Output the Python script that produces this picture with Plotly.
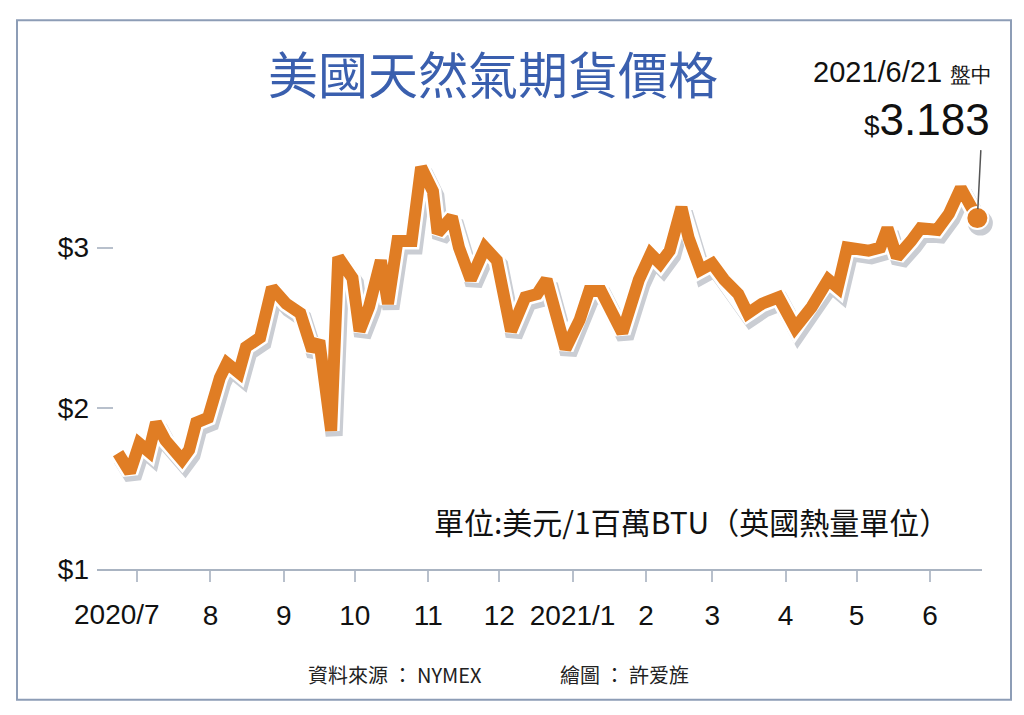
import plotly.graph_objects as go

# 美國天然氣期貨價格
dates = ["2020-06-23", "2020-06-28", "2020-07-02", "2020-07-06", "2020-07-09", "2020-07-13",
         "2020-07-20", "2020-07-23", "2020-07-26", "2020-07-31", "2020-08-05", "2020-08-08",
         "2020-08-13", "2020-08-16", "2020-08-22", "2020-08-27", "2020-09-02", "2020-09-08",
         "2020-09-13", "2020-09-16", "2020-09-21", "2020-09-24", "2020-09-30", "2020-10-03",
         "2020-10-07", "2020-10-12", "2020-10-15", "2020-10-19", "2020-10-25", "2020-10-29",
         "2020-11-03", "2020-11-05", "2020-11-11", "2020-11-14", "2020-11-19", "2020-11-25",
         "2020-11-30", "2020-12-06", "2020-12-12", "2020-12-17", "2020-12-21", "2020-12-29",
         "2021-01-04", "2021-01-08", "2021-01-13", "2021-01-22", "2021-01-29", "2021-02-03",
         "2021-02-07", "2021-02-11", "2021-02-16", "2021-02-19", "2021-02-24", "2021-03-01",
         "2021-03-06", "2021-03-12", "2021-03-16", "2021-03-22", "2021-03-29", "2021-04-05",
         "2021-04-12", "2021-04-19", "2021-04-23", "2021-04-27", "2021-05-06", "2021-05-11",
         "2021-05-14", "2021-05-18", "2021-05-24", "2021-05-28", "2021-06-04", "2021-06-09",
         "2021-06-14", "2021-06-17", "2021-06-21"]
prices = [1.72, 1.60, 1.78, 1.73, 1.91, 1.80,
          1.68, 1.74, 1.91, 1.94, 2.19, 2.28,
          2.22, 2.38, 2.44, 2.75, 2.65, 2.59,
          2.36, 2.42, 1.86, 2.94, 2.81, 2.48,
          2.63, 2.92, 2.65, 3.04, 3.04, 3.50,
          3.35, 3.09, 3.19, 3.00, 2.80, 3.00,
          2.92, 2.48, 2.69, 2.71, 2.80, 2.37,
          2.55, 2.73, 2.73, 2.47, 2.80, 2.96,
          2.90, 2.98, 3.25, 3.06, 2.86, 2.90,
          2.80, 2.71, 2.59, 2.65, 2.69, 2.50,
          2.63, 2.80, 2.75, 3.00, 2.98, 3.00,
          3.12, 2.94, 3.04, 3.12, 3.11, 3.21,
          3.37, 3.27, 3.183]

month_ticks = ["2020-07-01", "2020-08-01", "2020-09-01", "2020-10-01", "2020-11-01", "2020-12-01",
               "2021-01-01", "2021-02-01", "2021-03-01", "2021-04-01", "2021-05-01", "2021-06-01"]
month_labels = ["2020/7", "8", "9", "10", "11", "12", "2021/1", "2", "3", "4", "5", "6"]
y_ticks = [1, 2, 3]
y_labels = ["$1", "$2", "$3"]

# page body keeps an 8px margin; the shot comes out squeezed a little vertically
OFF = 8
FW, FH = 1008, 715
SY = 715 / 731
ORANGE = "#e07d24"
SHADOW = "#cacdd3"
CJK = "Noto Sans CJK TC"
LAT = "Liberation Sans"


def px(x):
    return (x - OFF) / FW


def py(y):
    return 1 - (y / SY - OFF) / FH


x_range = ["2020-06-14 02:00", "2021-06-22 23:00"]
y_range = [1, 3.6]

fig = go.Figure()

# gray drop shadow on a slightly shifted (hidden) subplot
fig.add_trace(go.Scatter(x=dates, y=prices, mode="lines", xaxis="x", yaxis="y",
                         line=dict(color=SHADOW, width=17), hoverinfo="skip"))
fig.add_trace(go.Scatter(x=dates[-1:], y=prices[-1:], mode="markers", xaxis="x", yaxis="y",
                         marker=dict(color=SHADOW, size=25), hoverinfo="skip"))

# white halo + orange line
fig.add_trace(go.Scatter(x=dates, y=prices, mode="lines", xaxis="x2", yaxis="y2",
                         line=dict(color="white", width=17), hoverinfo="skip"))
fig.add_trace(go.Scatter(x=dates, y=prices, mode="lines", xaxis="x2", yaxis="y2",
                         line=dict(color=ORANGE, width=12)))
fig.add_trace(go.Scatter(x=dates[-1:], y=prices[-1:], mode="markers", xaxis="x2", yaxis="y2",
                         marker=dict(color=ORANGE, size=22, line=dict(color="white", width=2))))
for tr in fig.data:
    tr.cliponaxis = False

fig.update_layout(
    width=FW, height=FH,
    margin=dict(l=0, r=0, t=0, b=0),
    paper_bgcolor="white", plot_bgcolor="rgba(0,0,0,0)",
    showlegend=False,
    xaxis=dict(domain=[px(100), px(985)], range=x_range, visible=False, anchor="y"),
    yaxis=dict(domain=[py(574), py(156)], range=y_range, visible=False, anchor="x"),
    xaxis2=dict(domain=[px(97), px(982)], range=x_range, anchor="y2",
                showline=True, linecolor="#aab4c2", linewidth=2, showgrid=False, zeroline=False,
                tickmode="array", tickvals=month_ticks, ticktext=[""] + month_labels[1:],
                ticks="outside", ticklen=11, tickwidth=2, tickcolor="#b8c0cc",
                ticklabelstandoff=10,
                tickfont=dict(family=LAT, size=28, color="#111")),
    yaxis2=dict(domain=[py(569), py(151)], range=y_range, anchor="x2",
                showline=False, showgrid=False, zeroline=False,
                tickmode="array", tickvals=y_ticks, ticktext=y_labels,
                ticks="inside", ticklen=16, tickwidth=1.5, tickcolor="#b8c0cc",
                ticklabelstandoff=7,
                tickfont=dict(family=LAT, size=28, color="#111")),
)

# frame
fig.add_shape(type="rect", xref="paper", yref="paper", x0=px(17), x1=px(1011), y0=py(700), y1=py(20),
              line=dict(color="#8d9db6", width=2))

# first month label sits a little left of its tick
fig.add_annotation(x=month_ticks[0], y=py(615), xref="x2", yref="paper", yanchor="middle",
                   text=month_labels[0], showarrow=False, xshift=-20,
                   font=dict(family=LAT, size=28, color="#111"))

fig.add_annotation(x=px(493), y=py(72), xref="paper", yref="paper", yanchor="middle",
                   text="美國天然氣期貨價格",
                   showarrow=False, font=dict(family=CJK, size=50, color="#3a5fae"))
fig.add_annotation(x=px(994), y=py(72), xref="paper", yref="paper", xanchor="right", yanchor="middle",
                   text="2021/6/21 <span style='font-size:21px'>盤中</span>",
                   showarrow=False, font=dict(family=LAT, size=29, color="#111"))
fig.add_annotation(x=px(992), y=py(119), xref="paper", yref="paper", xanchor="right", yanchor="middle",
                   text="<span style='font-size:28px'>$</span>" + f"{prices[-1]:.3f}",
                   showarrow=False, font=dict(family=LAT, size=44, color="#111"))
# leader line from the last price up to the label
fig.add_annotation(x=dates[-1], y=prices[-1], xref="x2", yref="y2", text=" ",
                   showarrow=True, arrowhead=0, arrowwidth=1.5, arrowcolor="#555",
                   ax=4, ay=-78, standoff=9)

fig.add_annotation(x=px(951), y=py(521), xref="paper", yref="paper", xanchor="right", yanchor="middle",
                   text="單位:美元/1百萬BTU（英國熱量單位）", showarrow=False,
                   font=dict(family=CJK, size=30, color="#111"))
fig.add_annotation(x=px(306), y=py(675), xref="paper", yref="paper", xanchor="left", yanchor="middle",
                   text="資料來源 ： NYMEX", showarrow=False,
                   font=dict(family=CJK, size=20, color="#222"))
fig.add_annotation(x=px(558), y=py(675), xref="paper", yref="paper", xanchor="left", yanchor="middle",
                   text="繪圖 ： 許爱旌", showarrow=False,
                   font=dict(family=CJK, size=20, color="#222"))

fig.write_html("out.html")
